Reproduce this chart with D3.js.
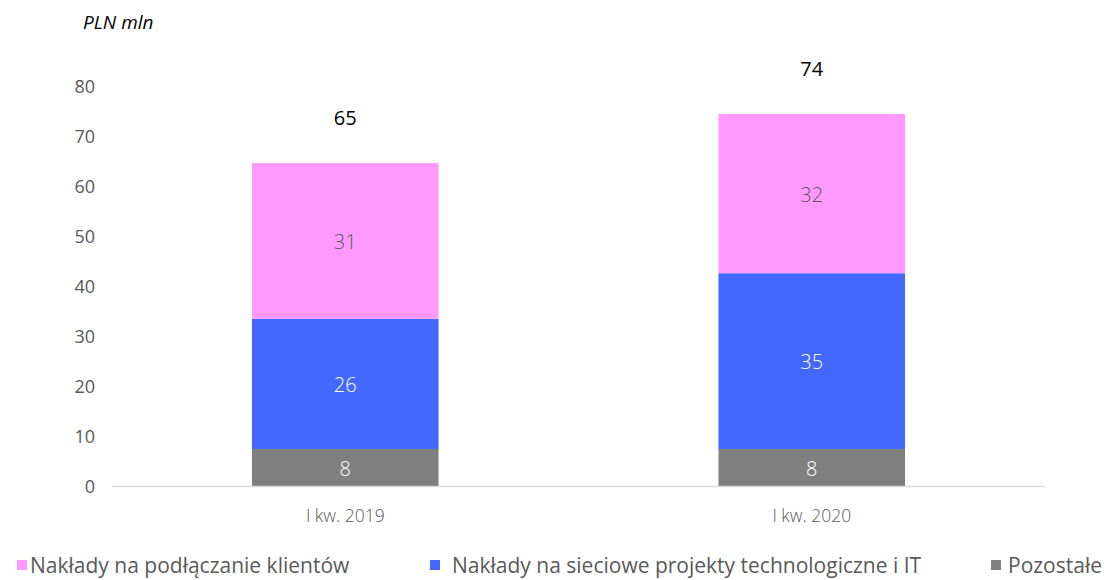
<!DOCTYPE html>
<html><head><meta charset="utf-8">
<script src="https://cdn.jsdelivr.net/npm/d3@7"></script>
<style>body{margin:0;background:#fff}svg{display:block;font-family:"Open Sans",sans-serif}</style>
</head><body>
<svg id="c" width="1108" height="580"></svg>
<script>
const categories = ["I kw. 2019", "I kw. 2020"];
const seriesNames = ["Pozostałe", "Nakłady na sieciowe projekty technologiczne i IT", "Nakłady na podłączanie klientów"];
const pozostale = [7.5, 7.5];
const siecIT = [26.0, 35.1];
const klienci = [31.1, 31.8];
const yTicks = [0, 10, 20, 30, 40, 50, 60, 70, 80];
const colors = ["#808080", "#4468FF", "#FF99FF"];
const labelColors = ["#ffffff", "#ffffff", "#595959"];
const legendOrder = [2, 1, 0];

const svg = d3.select("#c");
const x = d3.scaleBand().domain(categories).range([112, 1045]).paddingInner(0.6).paddingOuter(0.3);
const y = d3.scaleLinear().domain([0, 80]).range([486.5, 86]);

const rows = categories.map((c, i) => ({cat: c, s0: pozostale[i], s1: siecIT[i], s2: klienci[i]}));
const stack = d3.stack().keys(["s0", "s1", "s2"])(rows);

// y axis labels
const yAxis = d3.axisLeft(y).tickValues(yTicks).tickSize(0).tickPadding(0);
const gy = svg.append("g").attr("transform", "translate(95,0)").call(yAxis);
gy.select(".domain").remove();
gy.selectAll("text").attr("fill", "#595959").attr("dy", "0.36em").style("font-size", "18px").style("font-family", "'Open Sans',sans-serif");

// bars
stack.forEach((layer, k) => {
  const g = svg.append("g");
  g.selectAll("rect").data(layer).join("rect")
    .attr("x", d => x(d.data.cat)).attr("width", x.bandwidth())
    .attr("y", d => y(d[1])).attr("height", d => y(d[0]) - y(d[1]))
    .attr("fill", colors[k]);
  g.selectAll("text").data(layer).join("text")
    .attr("x", d => x(d.data.cat) + x.bandwidth() / 2)
    .attr("y", d => (y(d[0]) + y(d[1])) / 2)
    .attr("dy", "0.4em").attr("text-anchor", "middle")
    .attr("fill", labelColors[k]).style("font-size", "20px").style("font-weight", 300)
    .text(d => Math.round(d[1] - d[0]));
});

// x axis
const xAxis = d3.axisBottom(x).tickSize(0).tickPadding(0);
const gx = svg.append("g").attr("transform", "translate(0,486.5)").call(xAxis);
gx.select(".domain").attr("stroke", "#d9d9d9").attr("stroke-width", 1.5).attr("d", "M112,0H1045");
gx.selectAll("text").attr("y", 35.5).attr("dy", null).attr("fill", "#595959").style("font-size", "17.5px").style("font-weight", 300).style("font-family", "'Open Sans',sans-serif");

// totals
svg.append("g").selectAll("text").data(rows).join("text")
  .attr("x", d => x(d.cat) + x.bandwidth() / 2)
  .attr("y", d => y(d.s0 + d.s1 + d.s2) - 45)
  .attr("dy", "0.36em").attr("text-anchor", "middle")
  .attr("fill", "#000").style("font-size", "20px")
  .text(d => Math.round(d.s0 + d.s1 + d.s2));

// title
svg.append("text").attr("x", 83).attr("y", 29).attr("fill", "#000")
  .style("font-size", "19px").style("font-style", "italic").text("PLN mln");

// legend
const legX = [17, 430, 991];
const legGap = [13, 22, 17];
const lg = svg.append("g");
legendOrder.forEach((k, i) => {
  lg.append("rect").attr("x", legX[i]).attr("y", 560).attr("width", 10).attr("height", 10).attr("fill", colors[k]);
  lg.append("text").attr("x", legX[i] + legGap[i]).attr("y", 573).attr("fill", "#595959")
    .style("font-size", "21px").text(seriesNames[k]);
});
</script>
</body></html>
